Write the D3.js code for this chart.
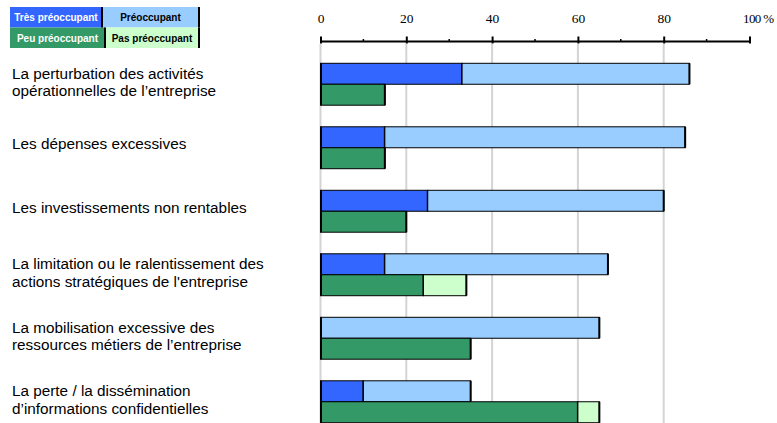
<!DOCTYPE html>
<html>
<head>
<meta charset="utf-8">
<script src="https://cdn.jsdelivr.net/npm/d3@7"></script>
<style>
  html, body { margin: 0; padding: 0; background: #fff; }
  svg { display: block; }
</style>
</head>
<body>
<svg id="chart" width="777" height="423"></svg>
<script>
// Categories (each entry is the list of lines of the label)
const categories = [
  ["La perturbation des activités", "opérationnelles de l’entreprise"],
  ["Les dépenses excessives"],
  ["Les investissements non rentables"],
  ["La limitation ou le ralentissement des", "actions stratégiques de l'entreprise"],
  ["La mobilisation excessive des", "ressources métiers de l’entreprise"],
  ["La perte / la dissémination", "d’informations confidentielles"]
];

// Series values, in %
const tresPreoccupant = [33, 15, 25, 15, 0, 10];
const preoccupant     = [53, 70, 55, 52, 65, 25];
const peuPreoccupant  = [15, 15, 20, 24, 35, 60];
const pasPreoccupant  = [0, 0, 0, 10, 0, 5];

// Axis ticks
const majorTicks = [0, 20, 40, 60, 80, 100];
const minorTicks = [10, 30, 50, 70, 90];
const gridTicks = [0, 20, 40, 60, 80];

const seriesNames = ["Très préoccupant", "Préoccupant", "Peu préoccupant", "Pas préoccupant"];
const seriesColors = ["#3366FF", "#99CCFF", "#339966", "#CCFFCC"];
const seriesTextColors = ["#ffffff", "#000000", "#ffffff", "#000000"];

const svg = d3.select("#chart");

const x = d3.scaleLinear().domain([0, 100]).range([320.5, 749.5]);
const y = d3.scaleBand()
  .domain(d3.range(categories.length))
  .range([52.5, 433.5])
  .paddingInner(0.34)
  .paddingOuter(0.17);
const half = y.bandwidth() / 2;

// Vertical grid lines
svg.append("g")
  .selectAll("line")
  .data(gridTicks)
  .join("line")
  .attr("x1", d => x(d)).attr("x2", d => x(d))
  .attr("y1", 44).attr("y2", 423)
  .attr("stroke", "#d4d4d4")
  .attr("stroke-width", 2);

// Axis on top
const axisG = svg.append("g").attr("transform", "translate(0,41.5)");
axisG.call(d3.axisTop(x).tickValues(majorTicks).tickSize(5).tickPadding(14)
  .tickFormat(d => d === 100 ? "100 %" : d));
axisG.select(".domain").attr("stroke", "#000").attr("stroke-width", 2).attr("d", `M${x(0)},0H${x(100)}`);
axisG.selectAll(".tick line").attr("stroke", "#000").attr("stroke-width", 2).attr("y2", 2).attr("y1", -5);
axisG.selectAll(".tick text")
  .attr("font-family", "'Liberation Serif', 'DejaVu Serif', serif")
  .attr("font-size", 13.5)
  .attr("fill", "#000");
axisG.selectAll(".tick").filter(d => d === 100).select("text")
  .attr("text-anchor", "start").attr("dx", -7)
  .attr("font-size", 13)
  .attr("letter-spacing", -0.6);
axisG.append("g")
  .selectAll("line")
  .data(minorTicks)
  .join("line")
  .attr("x1", d => x(d)).attr("x2", d => x(d))
  .attr("y1", -2.5).attr("y2", 0)
  .attr("stroke", "#000").attr("stroke-width", 1.5);

// Bars: upper bar stacks the two "préoccupant" levels, lower bar the two others
const rows = categories.map((c, i) => ({
  i,
  top: [tresPreoccupant[i], preoccupant[i]],
  bottom: [peuPreoccupant[i], pasPreoccupant[i]]
}));

const barsG = svg.append("g");
rows.forEach(r => {
  [[r.top, 0, y(r.i)], [r.bottom, 2, y(r.i) + half]].forEach(([vals, ci, y0]) => {
    let acc = 0;
    vals.forEach((v, k) => {
      const x0 = x(acc), x1 = x(acc + v);
      acc += v;
      if (v <= 0) return;
      barsG.append("rect")
        .attr("x", x0).attr("y", y0)
        .attr("width", x1 - x0).attr("height", half)
        .attr("fill", seriesColors[ci + k])
        .attr("stroke", "#000")
        .attr("stroke-width", 1);
      barsG.append("line")
        .attr("x1", x1).attr("x2", x1)
        .attr("y1", y0).attr("y2", y0 + half)
        .attr("stroke", "#000").attr("stroke-width", 2);
    });
    barsG.append("line")
      .attr("x1", x(0) + 0.5).attr("x2", x(0) + 0.5)
      .attr("y1", y0).attr("y2", y0 + half)
      .attr("stroke", "#000").attr("stroke-width", 2);
  });
});

// Category labels
const labelG = svg.append("g")
  .attr("font-family", "Arial, 'Liberation Sans', sans-serif")
  .attr("font-size", 15.3)
  .attr("fill", "#000");
categories.forEach((lines, i) => {
  const cy = y(i) + half;
  const first = lines.length === 1 ? cy + 1.5 : cy - 5.5;
  const t = labelG.append("text").attr("x", 12).attr("y", first);
  lines.forEach((line, j) => {
    t.append("tspan").attr("x", 12).attr("y", first + j * 17.6).text(line);
  });
});

// Legend (2 x 2 grid)
const legendG = svg.append("g")
  .attr("font-family", "Arial, 'Liberation Sans', sans-serif")
  .attr("font-size", 10)
  .attr("font-weight", "bold");
const cells = [
  { s: 0, x: 10, w: 92, y: 7 },
  { s: 1, x: 102, w: 97, y: 7 },
  { s: 2, x: 10, w: 95, y: 27.5 },
  { s: 3, x: 105, w: 94, y: 27.5 }
];
cells.forEach(c => {
  legendG.append("rect")
    .attr("x", c.x).attr("y", c.y)
    .attr("width", c.w).attr("height", 20.5)
    .attr("fill", seriesColors[c.s]);
  legendG.append("text")
    .attr("x", c.x + c.w / 2).attr("y", c.y + 14)
    .attr("text-anchor", "middle")
    .attr("fill", seriesTextColors[c.s])
    .text(seriesNames[c.s]);
});
[[102, 7], [199, 7], [105, 27.5], [199, 27.5]].forEach(([lx, ly]) => {
  legendG.append("line")
    .attr("x1", lx).attr("x2", lx)
    .attr("y1", ly).attr("y2", ly + 20.5)
    .attr("stroke", "#000").attr("stroke-width", 2);
});
</script>
</body>
</html>
